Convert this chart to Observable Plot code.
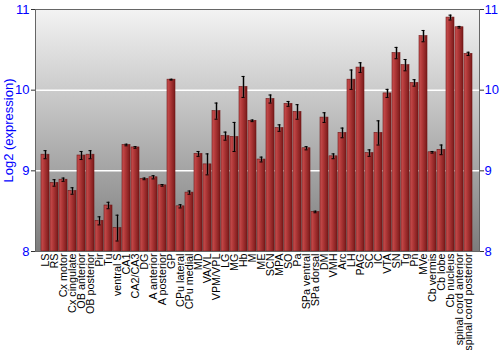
<!DOCTYPE html>
<html>
<head>
<meta charset="utf-8">
<script src="https://cdn.jsdelivr.net/npm/d3@7"></script>
<script src="https://cdn.jsdelivr.net/npm/@observablehq/plot@0.6"></script>
<style>
  body { margin: 0; background: #fff; }
  svg { font-family: "Liberation Sans", Arial, sans-serif; }
</style>
</head>
<body>
<div id="chart"></div>
<script>
const regions = ["LS","RS","Cx motor","Cx cingulate","OB anterior","OB posterior","Pir","Tu","ventral S","CA1","CA2/CA3","DG","A anterior","A posterior","GP","CPu lateral","CPu medial","MD","VA/VL","VPM/VPL","LG","MG","Hb","M","ME","SCN","MPA","SO","Pa","SPa ventral","SPa dorsal","DM","VMH","Arc","LH","PAG","SC","IC","VTA","SN","Tg","Pn","MVe","Cb vermis","Cb lobe","Cb nucleus","spinal cord anterior","spinal cord posterior"];
const values = [9.20,8.85,8.89,8.75,9.19,9.20,8.38,8.57,8.29,9.32,9.29,8.90,8.92,8.82,10.13,8.56,8.73,9.21,9.08,9.74,9.43,9.42,10.04,9.62,9.14,9.89,9.53,9.83,9.73,9.28,8.49,9.66,9.18,9.47,10.13,10.28,9.22,9.47,9.96,10.46,10.31,10.09,10.67,9.23,9.26,10.90,10.78,10.45];
const errors = [0.05,0.04,0.02,0.04,0.05,0.05,0.05,0.04,0.16,0.01,0.01,0.01,0.02,0.01,0.005,0.02,0.02,0.03,0.13,0.10,0.05,0.18,0.13,0.01,0.03,0.05,0.04,0.03,0.09,0.02,0.01,0.06,0.03,0.06,0.12,0.06,0.04,0.15,0.05,0.07,0.07,0.04,0.07,0.01,0.06,0.03,0.01,0.02];
const yTicks = [8, 9, 10, 11];

const data = regions.map((r, i) => ({region: r, value: values[i], err: errors[i]}));

const defs = () => {
  const ns = "http://www.w3.org/2000/svg";
  const d = document.createElementNS(ns, "defs");
  d.innerHTML = `
    <linearGradient id="bgGrad" x1="0" y1="0" x2="0" y2="1">
      <stop offset="0" stop-color="#f3f3f3"/>
      <stop offset="1" stop-color="#7c7c7c"/>
    </linearGradient>
    <linearGradient id="barGrad" x1="0" y1="0" x2="1" y2="0">
      <stop offset="0" stop-color="#c85252"/>
      <stop offset="0.35" stop-color="#b43a3a"/>
      <stop offset="1" stop-color="#7a1a1a"/>
    </linearGradient>`;
  return d;
};

const chart = Plot.plot({
  width: 500,
  height: 350,
  marginLeft: 35,
  marginRight: 21,
  marginTop: 9,
  marginBottom: 99,
  style: {fontFamily: "Liberation Sans, Arial, sans-serif", background: "#fff"},
  x: {domain: regions, padding: 0.1, label: null},
  y: {domain: [8, 11], label: null},
  marks: [
    defs,
    Plot.frame({fill: "url(#bgGrad)", stroke: "none"}),
    Plot.gridY([9, 10], {stroke: "#fff", strokeOpacity: 1, strokeWidth: 1.5}),
    Plot.barY(data, {x: "region", y1: 8, y2: "value", fill: "url(#barGrad)", stroke: "#6e1515", strokeWidth: 0.6, clip: true}),
    Plot.ruleX(data, {x: "region", y1: d => d.value - d.err, y2: d => d.value + d.err, stroke: "#666", strokeWidth: 2.5, strokeOpacity: 0.6}),
    Plot.ruleX(data, {x: "region", y1: d => d.value - d.err, y2: d => d.value + d.err, stroke: "#000", strokeWidth: 1}),
    Plot.tickY(data, {x: "region", y: d => d.value - d.err, stroke: "#000", insetLeft: 2.5, insetRight: 2.5}),
    Plot.tickY(data, {x: "region", y: d => d.value + d.err, stroke: "#000", insetLeft: 2.5, insetRight: 2.5}),
    Plot.frame({stroke: "#666", fill: "none"}),
    Plot.axisX({tickRotate: -90, tickSize: 0, tickPadding: 2, fontSize: 10.8, fill: "#000", label: null}),
    Plot.axisY(yTicks, {anchor: "left", tickSize: 4, stroke: "#333", fill: "#0000ff", fontSize: 13, tickPadding: 2, tickFormat: "d", label: "Log2 (expression)", labelAnchor: "center", labelArrow: "none", labelOffset: 32}),
    Plot.axisY(yTicks, {anchor: "right", tickSize: 4, stroke: "#333", fill: "#0000ff", fontSize: 13, tickPadding: 1, tickFormat: "d", label: null})
  ]
});
document.getElementById("chart").appendChild(chart);
</script>
</body>
</html>
